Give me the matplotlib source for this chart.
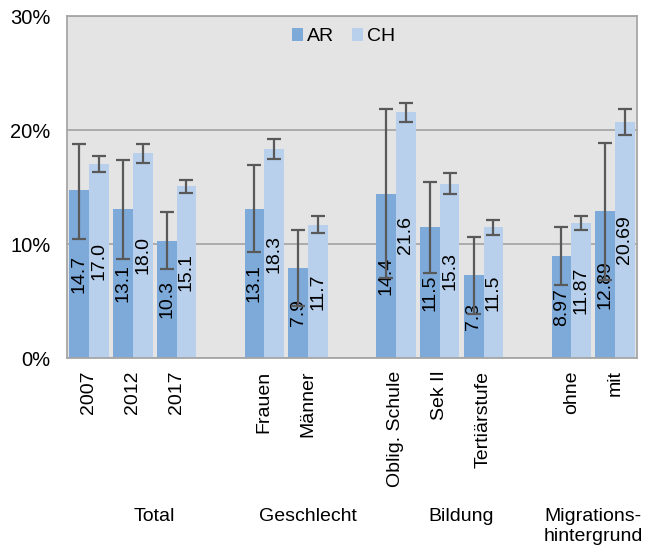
import matplotlib
matplotlib.use("Agg")
import matplotlib.pyplot as plt
import numpy as np

plt.rcParams['font.family'] = ['Liberation Sans', 'DejaVu Sans']

categories = ["2007", "2012", "2017", "", "Frauen", "Männer", "",
              "Oblig. Schule", "Sek II", "Tertiärstufe", "", "ohne", "mit"]
ar_values = [14.7, 13.1, 10.3, np.nan, 13.1, 7.9, np.nan, 14.4, 11.5, 7.3, np.nan, 8.97, 12.89]
ch_values = [17.0, 18.0, 15.1, np.nan, 18.3, 11.7, np.nan, 21.6, 15.3, 11.5, np.nan, 11.87, 20.69]
ar_low = [10.4, 8.7, 7.8, np.nan, 9.3, 4.6, np.nan, 7.0, 7.5, 3.9, np.nan, 6.4, 6.8]
ar_high = [18.8, 17.4, 12.8, np.nan, 16.9, 11.2, np.nan, 21.8, 15.4, 10.6, np.nan, 11.5, 18.9]
ch_low = [16.3, 17.1, 14.5, np.nan, 17.5, 11.0, np.nan, 20.7, 14.4, 10.8, np.nan, 11.2, 19.6]
ch_high = [17.7, 18.8, 15.6, np.nan, 19.2, 12.5, np.nan, 22.4, 16.2, 12.1, np.nan, 12.5, 21.8]
ar_labels = ["14.7", "13.1", "10.3", "", "13.1", "7.9", "", "14.4", "11.5", "7.3", "", "8.97", "12.89"]
ch_labels = ["17.0", "18.0", "15.1", "", "18.3", "11.7", "", "21.6", "15.3", "11.5", "", "11.87", "20.69"]
groups = ["Total", "Geschlecht", "Bildung", "Migrations-\nhintergrund"]
group_spans = [(0, 3), (4, 6), (7, 10), (11, 12)]
yticks = [0, 10, 20, 30]
ytick_labels = ["0%", "10%", "20%", "30%"]

AR_COLOR = "#7EAADA"
CH_COLOR = "#B8D0EC"
ERR_COLOR = "#595959"

fig = plt.figure(figsize=(6.46, 5.52), dpi=100)
ax = fig.add_axes([67 / 646, 1 - 358 / 552, (637 - 67) / 646, (358 - 16) / 552])
ax.set_facecolor("#E4E4E4")

x = np.arange(len(categories))
w = 0.45
ar = np.array(ar_values)
ch = np.array(ch_values)

ax.bar(x - w / 2, ar, width=w, color=AR_COLOR, label="AR", zorder=2)
ax.bar(x + w / 2, ch, width=w, color=CH_COLOR, label="CH", zorder=2)

for xs, vals, labs in [(x - w / 2, ar, ar_labels), (x + w / 2, ch, ch_labels)]:
    for xi, v, lab in zip(xs, vals, labs):
        if lab:
            ax.text(xi, v / 2, lab, rotation=90, ha="center", va="center",
                    fontsize=14, color="black", zorder=3)

ar_err = np.array([ar - np.array(ar_low), np.array(ar_high) - ar])
ch_err = np.array([ch - np.array(ch_low), np.array(ch_high) - ch])
ax.errorbar(x - w / 2, ar, yerr=ar_err, fmt="none", ecolor=ERR_COLOR,
            elinewidth=1.6, capsize=5, capthick=1.6, zorder=4)
ax.errorbar(x + w / 2, ch, yerr=ch_err, fmt="none", ecolor=ERR_COLOR,
            elinewidth=1.6, capsize=5, capthick=1.6, zorder=4)

ax.set_xlim(-0.5, len(categories) - 0.5)
ax.set_ylim(0, 30)
ax.set_yticks(yticks)
ax.set_yticklabels(ytick_labels, fontsize=14.5)
ax.yaxis.grid(True, color="#A6A6A6", linewidth=1.3, zorder=0)
ax.set_axisbelow(True)
ax.tick_params(axis="y", length=0, pad=12)
ax.tick_params(axis="x", length=0, pad=9)
ax.set_xticks(x)
ax.set_xticklabels(categories, rotation=90, fontsize=14)
for sp in ax.spines.values():
    sp.set_color("#A6A6A6")
    sp.set_linewidth(1.3)

for name, (a, b) in zip(groups, group_spans):
    ax.text((a + b) / 2, -13.2, name, ha="center", va="top",
            fontsize=14, transform=ax.transData, linespacing=1.2)

leg = ax.legend(loc="upper center", ncol=2, frameon=False, fontsize=14,
                handlelength=0.6, handleheight=0.6, handletextpad=0.2,
                columnspacing=0.9, bbox_to_anchor=(0.485, 1.015))

fig.savefig("out.png", dpi=100, facecolor="white")
